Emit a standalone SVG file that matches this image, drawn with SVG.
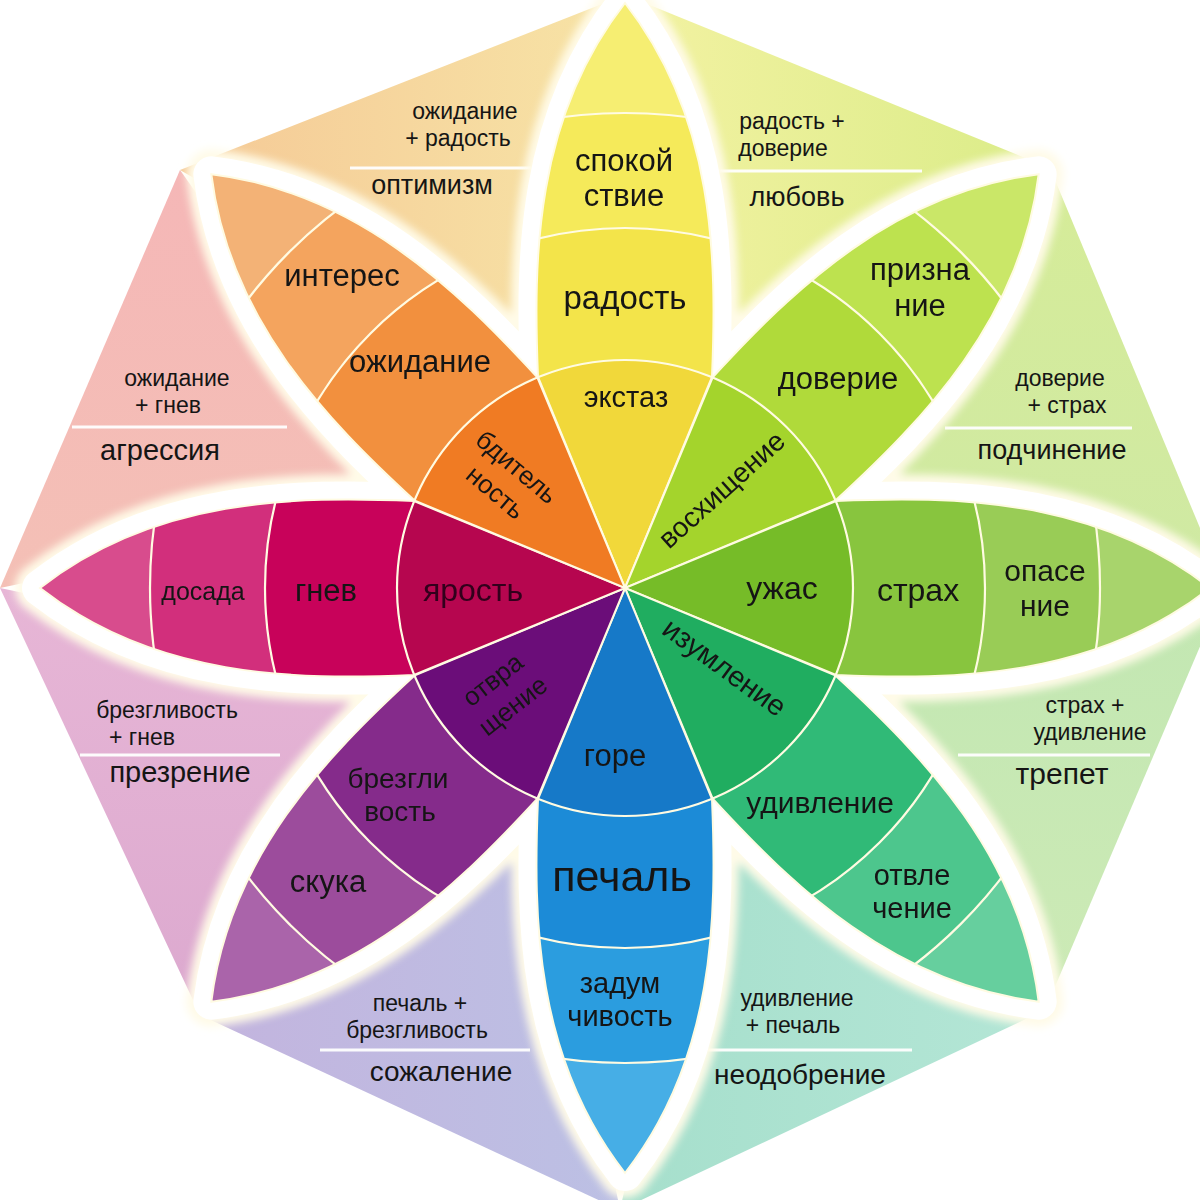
<svg xmlns="http://www.w3.org/2000/svg" xmlns:xlink="http://www.w3.org/1999/xlink" width="1200" height="1200" viewBox="0 0 1200 1200">
<style>
text{font-family:"Liberation Sans","Noto Sans","DejaVu Sans",sans-serif;fill:#151515;text-anchor:middle}
.sep{fill:none;stroke:#fffbe2;stroke-width:2.2}
.edge{fill:none;stroke:#fffbe2;stroke-width:2}
.tl{stroke:#ffffff;stroke-width:3;opacity:.95}
.c{font-size:23px}
</style>
<defs>
<path id="petal" d="M0,0 L211,87 C330,92 470,90 585,0 C470,-90 330,-92 211,-87 Z"/>
<clipPath id="pc" clipPathUnits="userSpaceOnUse"><use href="#petal"/></clipPath>
<filter id="blur" x="-20%" y="-20%" width="140%" height="140%"><feGaussianBlur stdDeviation="4"/></filter>
<filter id="soft" x="-10%" y="-30%" width="120%" height="160%"><feGaussianBlur stdDeviation="0.5"/></filter>
<linearGradient id="g1" x1="0" y1="0" x2="1" y2="0"><stop offset="0" stop-color="#f5c996"/><stop offset="1" stop-color="#f7e4a6"/></linearGradient>
<linearGradient id="g2" x1="0" y1="0" x2="1" y2="0"><stop offset="0" stop-color="#f3f2a2"/><stop offset="1" stop-color="#daec88"/></linearGradient>
<linearGradient id="g3" x1="0" y1="0" x2="0" y2="1"><stop offset="0" stop-color="#d6ec98"/><stop offset="1" stop-color="#cfe9a4"/></linearGradient>
<linearGradient id="g4" x1="0" y1="0" x2="0" y2="1"><stop offset="0" stop-color="#c2e7b2"/><stop offset="1" stop-color="#cdeab6"/></linearGradient>
<linearGradient id="g5" x1="0" y1="0" x2="1" y2="0"><stop offset="0" stop-color="#a6dfcc"/><stop offset="1" stop-color="#b4e6d6"/></linearGradient>
<linearGradient id="g6" x1="0" y1="0" x2="1" y2="0"><stop offset="0" stop-color="#c3b4de"/><stop offset="1" stop-color="#bcc0e4"/></linearGradient>
<linearGradient id="g7" x1="0" y1="0" x2="0" y2="1"><stop offset="0" stop-color="#e7b6d6"/><stop offset="1" stop-color="#dca9cf"/></linearGradient>
<linearGradient id="g8" x1="0" y1="0" x2="0" y2="1"><stop offset="0" stop-color="#f5b7b7"/><stop offset="1" stop-color="#f4c0b6"/></linearGradient>
</defs>
<rect width="1200" height="1200" fill="#ffffff"/>

<!-- outer combination triangles -->
<g id="tri-optimism">
<polygon points="180,170 625,-5 537.7,377.4" fill="url(#g1)"/>
<line class="tl" x1="350" y1="168" x2="548" y2="168"/>
<text class="c" x="465" y="119">ожидание</text>
<text class="c" x="458" y="146">+ радость</text>
<text x="432" y="194" font-size="27">оптимизм</text>
</g>
<g id="tri-love">
<polygon points="625,-5 1050,168 712.3,377.4" fill="url(#g2)"/>
<line class="tl" x1="718" y1="171" x2="922" y2="171"/>
<text class="c" x="792" y="129">радость +</text>
<text class="c" x="783" y="156">доверие</text>
<text x="797" y="206" font-size="27">любовь</text>
</g>
<g id="tri-submission">
<polygon points="1050,168 1225,588 835.6,500.7" fill="url(#g3)"/>
<line class="tl" x1="945" y1="428" x2="1132" y2="428"/>
<text class="c" x="1060" y="386">доверие</text>
<text class="c" x="1067" y="413">+ страх</text>
<text x="1052" y="459" font-size="27">подчинение</text>
</g>
<g id="tri-awe">
<polygon points="1225,588 1045,1010 835.6,675.3" fill="url(#g4)"/>
<line class="tl" x1="958" y1="755" x2="1150" y2="755"/>
<text class="c" x="1085" y="713">страх +</text>
<text class="c" x="1090" y="740">удивление</text>
<text x="1062" y="784" font-size="30">трепет</text>
</g>
<g id="tri-disapproval">
<polygon points="1045,1010 620,1210 712.3,798.6" fill="url(#g5)"/>
<line class="tl" x1="708" y1="1050" x2="912" y2="1050"/>
<text class="c" x="797" y="1006">удивление</text>
<text class="c" x="793" y="1033">+ печаль</text>
<text x="800" y="1084" font-size="28">неодобрение</text>
</g>
<g id="tri-remorse">
<polygon points="620,1210 200,1015 537.7,798.6" fill="url(#g6)"/>
<line class="tl" x1="320" y1="1050" x2="530" y2="1050"/>
<text class="c" x="420" y="1011">печаль +</text>
<text class="c" x="417" y="1038">брезгливость</text>
<text x="441" y="1081" font-size="28">сожаление</text>
</g>
<g id="tri-contempt">
<polygon points="200,1015 0,588 414.4,675.3" fill="url(#g7)"/>
<line class="tl" x1="80" y1="755" x2="280" y2="755"/>
<text class="c" x="167" y="718">брезгливость</text>
<text class="c" x="142" y="745">+ гнев</text>
<text x="180" y="782" font-size="29">презрение</text>
</g>
<g id="tri-aggression">
<polygon points="0,588 180,170 414.4,500.7" fill="url(#g8)"/>
<line class="tl" x1="72" y1="427" x2="287" y2="427"/>
<text class="c" x="177" y="386">ожидание</text>
<text class="c" x="168" y="413">+ гнев</text>
<text x="160" y="460" font-size="29">агрессия</text>
</g>

<!-- white gaps around petals -->
<g id="halo" transform="translate(625,588)">
<g filter="url(#blur)" fill="none" stroke="#fffbe8" stroke-width="50" stroke-linejoin="round">
<use href="#petal" transform="rotate(-90)"/><use href="#petal" transform="rotate(-45)"/><use href="#petal"/><use href="#petal" transform="rotate(45)"/>
<use href="#petal" transform="rotate(90)"/><use href="#petal" transform="rotate(135)"/><use href="#petal" transform="rotate(180)"/><use href="#petal" transform="rotate(225)"/>
</g>
<g fill="none" stroke="#ffffff" stroke-width="36" stroke-linejoin="round">
<use href="#petal" transform="rotate(-90)"/><use href="#petal" transform="rotate(-45)"/><use href="#petal"/><use href="#petal" transform="rotate(45)"/>
<use href="#petal" transform="rotate(90)"/><use href="#petal" transform="rotate(135)"/><use href="#petal" transform="rotate(180)"/><use href="#petal" transform="rotate(225)"/>
</g>
</g>

<!-- petals -->
<g id="petal-joy">
<g transform="translate(625,588) rotate(-90)">
<g clip-path="url(#pc)">
<use href="#petal" fill="#f6ee72"/><circle r="475" fill="#f5ea5a"/><circle r="360" fill="#f3e44a"/><circle r="228" fill="#f1d83a"/>
<circle r="475" class="sep"/><circle r="360" class="sep"/><circle r="228" class="sep"/>
</g>
<use href="#petal" class="edge"/>
</g>
<text x="624" y="171" font-size="31">спокой</text>
<text x="624" y="206" font-size="31">ствие</text>
<text x="625" y="309" font-size="33">радость</text>
<text x="626" y="407" font-size="29">экстаз</text>
</g>

<g id="petal-trust">
<g transform="translate(625,588) rotate(-45)">
<g clip-path="url(#pc)">
<use href="#petal" fill="#cae768"/><circle r="475" fill="#bde24f"/><circle r="360" fill="#b0da3a"/><circle r="228" fill="#a4d42c"/>
<circle r="475" class="sep"/><circle r="360" class="sep"/><circle r="228" class="sep"/>
</g>
<use href="#petal" class="edge"/>
</g>
<text x="920" y="280" font-size="31">призна</text>
<text x="920" y="316" font-size="31">ние</text>
<text x="838" y="389" font-size="31">доверие</text>
<g transform="translate(722,490) rotate(-42)"><text y="9" font-size="28">восхищение</text></g>
</g>

<g id="petal-fear">
<g transform="translate(625,588)">
<g clip-path="url(#pc)">
<use href="#petal" fill="#a8d46c"/><circle r="475" fill="#99cc56"/><circle r="360" fill="#88c53e"/><circle r="228" fill="#76bc28"/>
<circle r="475" class="sep"/><circle r="360" class="sep"/><circle r="228" class="sep"/>
</g>
<use href="#petal" class="edge"/>
</g>
<text x="782" y="599" font-size="32">ужас</text>
<text x="918" y="601" font-size="32">страх</text>
<text x="1045" y="581" font-size="30">опасе</text>
<text x="1045" y="616" font-size="30">ние</text>
</g>

<g id="petal-surprise">
<g transform="translate(625,588) rotate(45)">
<g clip-path="url(#pc)">
<use href="#petal" fill="#66cf9e"/><circle r="475" fill="#4dc68d"/><circle r="360" fill="#30ba77"/><circle r="228" fill="#20ad60"/>
<circle r="475" class="sep"/><circle r="360" class="sep"/><circle r="228" class="sep"/>
</g>
<use href="#petal" class="edge"/>
</g>
<g transform="translate(724,668) rotate(36)"><text y="9" font-size="29">изумление</text></g>
<text x="820" y="813" font-size="30">удивление</text>
<text x="912" y="885" font-size="29">отвле</text>
<text x="912" y="918" font-size="29">чение</text>
</g>

<g id="petal-sadness">
<g transform="translate(625,588) rotate(90)">
<g clip-path="url(#pc)">
<use href="#petal" fill="#46aee6"/><circle r="475" fill="#2b9ddf"/><circle r="360" fill="#1c8bd7"/><circle r="228" fill="#1679c8"/>
<circle r="475" class="sep"/><circle r="360" class="sep"/><circle r="228" class="sep"/>
</g>
<use href="#petal" class="edge"/>
</g>
<text x="615" y="766" font-size="31">горе</text>
<text x="622" y="891" font-size="43">печаль</text>
<text x="620" y="993" font-size="29">задум</text>
<text x="620" y="1026" font-size="29">чивость</text>
</g>

<g id="petal-disgust">
<g transform="translate(625,588) rotate(135)">
<g clip-path="url(#pc)">
<use href="#petal" fill="#aa64aa"/><circle r="475" fill="#9c4c9c"/><circle r="360" fill="#852b8b"/><circle r="228" fill="#6b0d79"/>
<circle r="475" class="sep"/><circle r="360" class="sep"/><circle r="228" class="sep"/>
</g>
<use href="#petal" class="edge"/>
</g>
<g transform="translate(503,693) rotate(-38)"><text y="-8" font-size="26">отвра</text><text y="25" font-size="26">щение</text></g>
<text x="398" y="788" font-size="28">брезгли</text>
<text x="400" y="821" font-size="28">вость</text>
<text x="328" y="892" font-size="31">скука</text>
</g>

<g id="petal-anger">
<g transform="translate(625,588) rotate(180)">
<g clip-path="url(#pc)">
<use href="#petal" fill="#d84c8d"/><circle r="475" fill="#d22f7c"/><circle r="360" fill="#c8025a"/><circle r="228" fill="#b6064f"/>
<circle r="475" class="sep"/><circle r="360" class="sep"/><circle r="228" class="sep"/>
</g>
<use href="#petal" class="edge"/>
</g>
<text x="203" y="600" font-size="25">досада</text>
<text x="326" y="601" font-size="31">гнев</text>
<text x="473" y="601" font-size="32" filter="url(#soft)" style="fill:#32051b">ярость</text>
</g>

<g id="petal-anticipation">
<g transform="translate(625,588) rotate(225)">
<g clip-path="url(#pc)">
<use href="#petal" fill="#f3b276"/><circle r="475" fill="#f4a45e"/><circle r="360" fill="#f2903e"/><circle r="228" fill="#f07b23"/>
<circle r="475" class="sep"/><circle r="360" class="sep"/><circle r="228" class="sep"/>
</g>
<use href="#petal" class="edge"/>
</g>
<text x="342" y="286" font-size="31">интерес</text>
<text x="420" y="372" font-size="31">ожидание</text>
<g transform="translate(506,480) rotate(40)"><text y="-8" font-size="26">бдитель</text><text y="25" font-size="26">ность</text></g>
</g>
</svg>
